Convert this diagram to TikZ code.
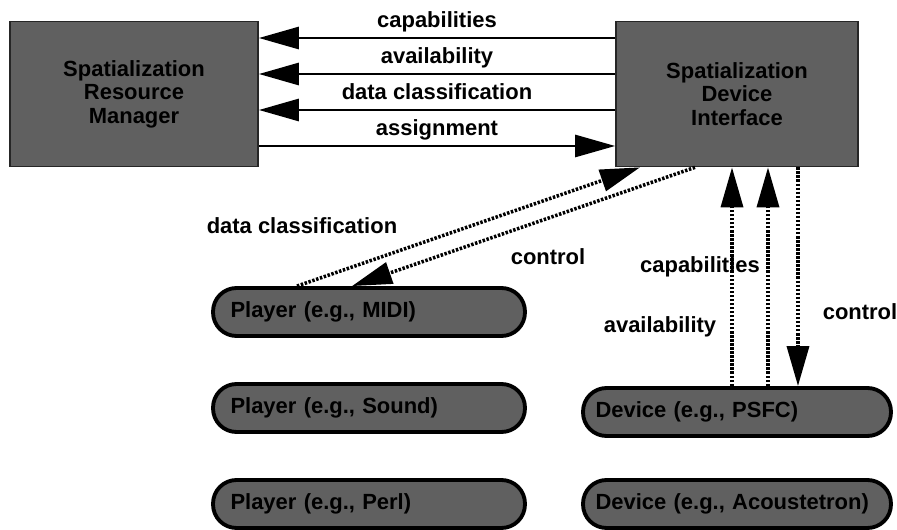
\documentclass[tikz,border=0pt]{standalone}
\usepackage{fontspec}
\setmainfont{Liberation Sans}
\usetikzlibrary{arrows.meta,positioning,calc}
\definecolor{boxgrey}{HTML}{606060}

\begin{document}
\begin{tikzpicture}[x=0.02cm,y=-0.02cm,
        box/.style={draw=black!85,line width=1pt,fill=boxgrey,
                    font=\bfseries\fontsize{12.5}{13.4}\selectfont,
                    align=center,minimum height=2.9cm,inner sep=0pt},
        pill/.style={draw=black,line width=2.2pt,fill=boxgrey,rounded corners=0.47cm,
                     font=\bfseries\fontsize{12.5}{14}\selectfont,minimum height=0.96cm,
                     text width=#1,align=left,inner xsep=0.35cm},
        lbl/.style={font=\bfseries\fontsize{12.5}{14}\selectfont,
                    text height=0.72em,text depth=0.22em,inner sep=3pt},
        ar/.style={-{Triangle[length=0.8cm,width=0.44cm]},line width=1.6pt},
        dar/.style={ar,line width=2pt,dash pattern=on 1.4pt off 0.9pt}]
      \useasboundingbox (0,0) rectangle (897,530);
      % managers
      \node[box,minimum width=4.96cm] (srm) at (134,94) {Spatialization\\Resource\\Manager};
      \node[box,minimum width=4.84cm] (sdi) at (737,94) {Spatialization\\Device\\Interface};
      % players and devices
      \node[pill=5.54cm] (midi)  at (369,312) {Player (e.g., MIDI)};
      \node[pill=5.54cm] (sound) at (369,408) {Player (e.g., Sound)};
      \node[pill=5.54cm] (perl)  at (369,504) {Player (e.g., Perl)};
      \node[pill=5.66cm,inner xsep=0.25cm] (psfc) at (737,412) {Device (e.g., PSFC)};
      \node[pill=5.66cm,inner xsep=0.25cm] (acou) at (737,504) {Device (e.g., Acoustetron)};
      % messages between the two managers
      \foreach \dy/\txt in {1.12/capabilities,0.40/availability,-0.32/data classification}
        \draw[ar] ([yshift=\dy cm]sdi.west) -- node[lbl,above]{\txt} ([yshift=\dy cm]srm.east);
      \draw[ar] ([yshift=-1.04cm]srm.east) -- node[lbl,above]{assignment} ([yshift=-1.04cm]sdi.west);
      % player link
      \draw[dar] ([xshift=-1.44cm]midi.north) -- ([xshift=-1.94cm]sdi.south);
      \draw[dar] ([xshift=-0.84cm]sdi.south) -- ([xshift=-0.34cm]midi.north);
      \node[lbl] (dcl) at (302,229) {data classification};
      \node[lbl] (ctla) at (548,260) {control};
      % device link
      \draw[dar] ([xshift=-0.1cm]psfc.north) -- ([xshift=-0.1cm]sdi.south);
      \draw[dar] ([xshift=0.62cm]psfc.north) -- ([xshift=0.62cm]sdi.south);
      \draw[dar] ([xshift=1.22cm]sdi.south) -- ([xshift=1.22cm]psfc.north);
      \node[lbl] (cap) at (700,268) {capabilities};
      \node[lbl] (avl) at (660,328) {availability};
      \node[lbl] (ctlb) at (860,315) {control};
    \end{tikzpicture}
\end{document}
